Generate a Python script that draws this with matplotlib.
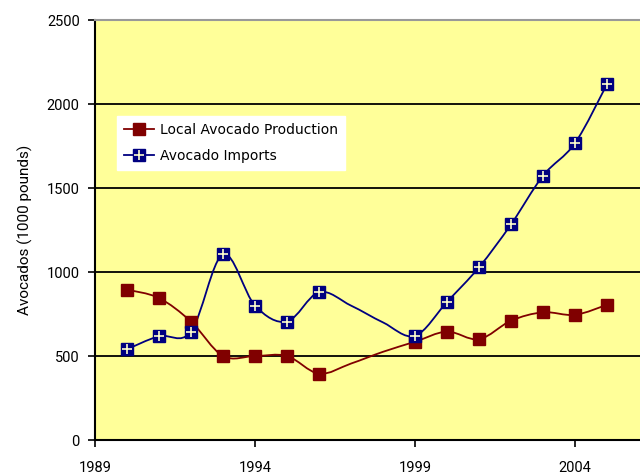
import numpy as np
import matplotlib
matplotlib.use("Agg")
import matplotlib.pyplot as plt
from matplotlib.path import Path
from matplotlib.patches import PathPatch
from matplotlib.lines import Line2D
from matplotlib.legend_handler import HandlerTuple

years = [1990, 1991, 1992, 1993, 1994, 1995, 1996, 1997, 1998, 1999,
         2000, 2001, 2002, 2003, 2004, 2005]
local_production = [895, 845, 705, 500, 500, 500, 395, 455, 525, 585,
                    645, 600, 710, 760, 745, 805]
imports = [540, 618, 645, 1105, 800, 705, 880, 800, 700, 620,
           822, 1028, 1283, 1573, 1767, 2118]
# years that carry a marker (1997/1998 plotted without markers)
marker_years = [1990, 1991, 1992, 1993, 1994, 1995, 1996, 1999,
                2000, 2001, 2002, 2003, 2004, 2005]
x_ticks = [1989, 1994, 1999, 2004]
y_ticks = [0, 500, 1000, 1500, 2000, 2500]

RED = "#800000"
BLUE = "#000080"
BG = "#FFFF99"


def smooth_path(xs, ys):
    """Catmull-Rom style smoothed path as cubic Bezier (like Excel smoothing)."""
    xs = np.asarray(xs, float)
    ys = np.asarray(ys, float)
    pts = np.column_stack([xs, ys])
    verts = [pts[0]]
    codes = [Path.MOVETO]
    n = len(pts)
    for i in range(n - 1):
        p0 = pts[i - 1] if i > 0 else pts[i]
        p1 = pts[i]
        p2 = pts[i + 1]
        p3 = pts[i + 2] if i + 2 < n else pts[i + 1]
        c1 = p1 + (p2 - p0) / 6.0
        c2 = p2 - (p3 - p1) / 6.0
        verts += [c1, c2, p2]
        codes += [Path.CURVE4] * 3
    return Path(verts, codes)


fig = plt.figure(figsize=(6.4, 4.74), dpi=100)
ax = fig.add_axes([95 / 640, 34 / 474, 545 / 640, 420 / 474])
ax.set_facecolor(BG)

ax.set_xlim(1989, 1989 + 545 / 32)
ax.set_ylim(0, 2500)

for yv in y_ticks[1:-1]:
    ax.axhline(yv, color="black", lw=1.3, zorder=1)

# smoothed lines
ax.add_patch(PathPatch(smooth_path(years, local_production), fill=False,
                       edgecolor=RED, lw=1.3, zorder=3))
ax.add_patch(PathPatch(smooth_path(years, imports), fill=False,
                       edgecolor=BLUE, lw=1.3, zorder=3))

idx = [years.index(y) for y in marker_years]
mx = [years[i] for i in idx]
ax.plot(mx, [local_production[i] for i in idx], ls="none", marker="s",
        ms=9, color=RED, mec=RED, zorder=4)
ax.plot(mx, [imports[i] for i in idx], ls="none", marker="s",
        ms=9, color=BLUE, mec=BLUE, zorder=5)
ax.plot(mx, [imports[i] for i in idx], ls="none", marker="+",
        ms=7, mew=1.2, color="#FFFFCC", zorder=6)

ax.set_xticks(x_ticks)
ax.set_yticks(y_ticks)
ax.tick_params(axis="both", direction="out", length=5, width=1.2,
               labelsize=10.5, colors="black")
ax.tick_params(axis="x", pad=10)
ax.tick_params(axis="y", pad=6)
for lab in ax.get_xticklabels() + ax.get_yticklabels():
    lab.set_fontfamily("Roboto")

ax.set_ylabel("Avocados (1000 pounds)", fontsize=11, family="Roboto",
              labelpad=10)

ax.spines["left"].set_linewidth(1.5)
ax.spines["bottom"].set_linewidth(1.5)
ax.spines["top"].set_color("#999999")
ax.spines["top"].set_linewidth(1.5)
ax.spines["right"].set_visible(False)

h_red = Line2D([], [], color=RED, lw=1.3, marker="s", ms=9, mec=RED)
h_blue = Line2D([], [], color=BLUE, lw=1.3, marker="s", ms=9, mec=BLUE)
h_plus = Line2D([], [], ls="none", marker="+", ms=7, mew=1.2, color="#FFFFCC")
leg = ax.legend([h_red, (h_blue, h_plus)],
                ["Local Avocado Production", "Avocado Imports"],
                handler_map={tuple: HandlerTuple(ndivide=1)},
                loc="upper left", bbox_to_anchor=(0.04, 0.772),
                frameon=True, fancybox=False, framealpha=1,
                edgecolor="white", facecolor="white",
                prop={"family": "DejaVu Sans", "size": 10},
                handlelength=2.2, handletextpad=0.4, labelspacing=0.9,
                borderpad=0.5, borderaxespad=0)
leg.set_zorder(10)

fig.savefig("out.png", dpi=100)
